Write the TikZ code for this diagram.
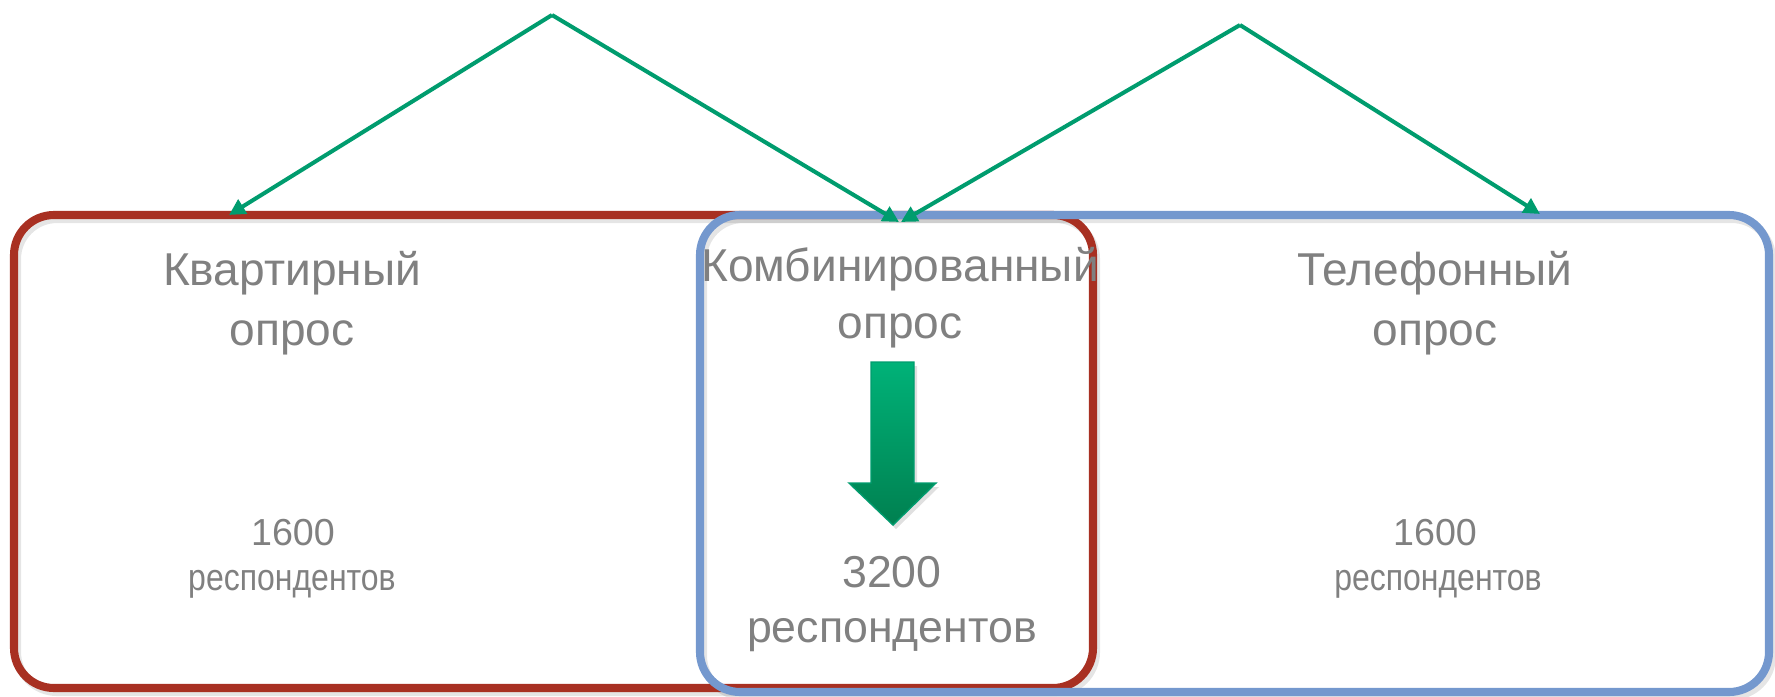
\documentclass[tikz,border=0pt]{standalone}
\usepackage{fontspec}
\usepackage{graphicx}
\setmainfont{Liberation Sans}
\usetikzlibrary{arrows.meta}
\definecolor{boxred}{RGB}{168,48,34}
\definecolor{boxblue}{RGB}{116,152,206}
\definecolor{txtgray}{RGB}{128,128,128}
\definecolor{lnk}{RGB}{0,156,110}
\definecolor{arrtop}{RGB}{0,178,120}
\definecolor{arrbot}{RGB}{0,128,80}
\begin{document}
\begin{tikzpicture}[x=0.01cm,y=-0.01cm,
  surveybox/.style={line width=2.3pt, rounded corners=0.4cm},
  boxshadow/.style={line width=2.3pt, rounded corners=0.4cm, draw=black, opacity=0.10},
  title/.style={text=txtgray, font=\fontsize{13.1pt}{15pt}\selectfont, anchor=base, inner sep=0pt},
  small/.style={text=txtgray, font=\fontsize{10.7pt}{13pt}\selectfont, anchor=base, inner sep=0pt},
  big/.style={text=txtgray, font=\fontsize{12.7pt}{15pt}\selectfont, anchor=base, inner sep=0pt},
  link/.style={draw=lnk, line width=1.15pt, -{Triangle[length=4.6pt,width=4.6pt]}}]
\useasboundingbox (0,0) rectangle (1775,697);
% shadows
\draw[boxshadow] (17,219) rectangle (1096,692);
\draw[boxshadow] (703,219) rectangle (1772,696);
% boxes
\draw[surveybox, draw=boxred] (14,215) rectangle (1093,688);
\draw[surveybox, draw=boxblue] (700,215) rectangle (1769,692);
% connector anchors
\coordinate (apexA) at (552,15);
\coordinate (apexB) at (1240,25);
\coordinate (kvTop) at (229,215);
\coordinate (kmTopL) at (899,222);
\coordinate (kmTopR) at (901,222);
\coordinate (tlTop) at (1540,214);
\draw[link] (apexA) -- (kvTop);
\draw[link] (apexA) -- (kmTopL);
\draw[link] (apexB) -- (kmTopR);
\draw[link] (apexB) -- (tlTop);
% block arrow
\fill[black, opacity=0.12] (874,366) -- (917,366) -- (917,487) -- (939,487) -- (896,529) -- (852,487) -- (874,487) -- cycle;
\shade[top color=arrtop, bottom color=arrbot, draw=lnk, line width=0.4pt]
  (871,362) -- (914,362) -- (914,483) -- (936,483) -- (893,525) -- (849,483) -- (871,483) -- cycle;
% texts
\node[title] (kv1) at (292,285) {Квартирный};
\node[title] (kv2) at (292,345) {опрос};
\node[title] (km1) at (900,281) {Комбинированный};
\node[title] (km2) at (900,338) {опрос};
\node[title] (tl1) at (1435,285) {Телефонный};
\node[title] (tl2) at (1435,345) {опрос};
\node[small] (kvn) at (293,545) {1600};
\node[small] (kvr) at (292,590) {\scalebox{0.85}[1]{респондентов}};
\node[small] (tln) at (1435,545) {1600};
\node[small] (tlr) at (1438,590) {\scalebox{0.85}[1]{респондентов}};
\node[big] (kmn) at (892,587) {3200};
\node[big] (kmr) at (892,642) {респондентов};
\end{tikzpicture}
\end{document}
